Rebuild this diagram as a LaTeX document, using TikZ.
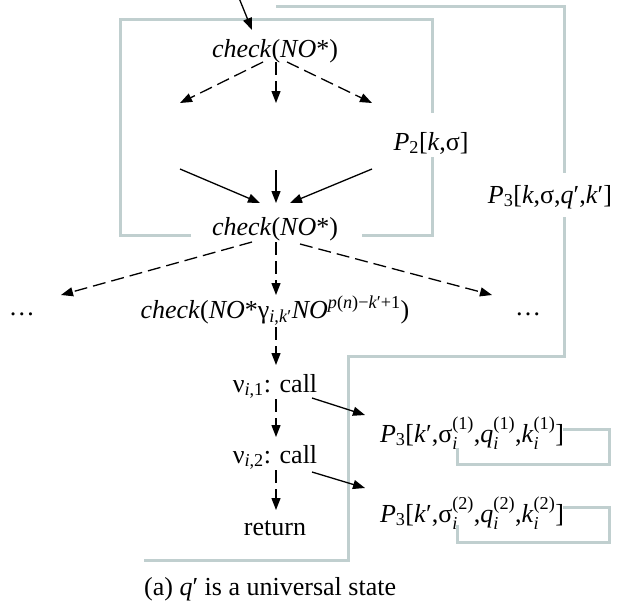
\documentclass[tikz,border=0pt]{standalone}
\usepackage{amsmath}
\usepackage{fontspec}
\setmainfont{Liberation Serif}
\usetikzlibrary{arrows.meta}
\definecolor{boxgray}{RGB}{192,207,207}
\newcommand{\sbsp}[2]{\ensuremath{_{\text{#1}}^{\text{#2}}}}
\newcommand{\sbs}[1]{\ensuremath{_{\text{#1}}}}
\newcommand{\sps}[1]{\ensuremath{^{\text{#1}}}}
\begin{document}
\begin{tikzpicture}[x=1pt,y=-1pt,
  lbl/.style={inner sep=0pt, anchor=base, font=\fontsize{26}{31}\selectfont},
  arr/.style={line width=1.3pt, -{Triangle[length=12pt,width=9pt]}},
  darr/.style={arr, dash pattern=on 13pt off 6pt},
  grayline/.style={draw=boxgray, line width=3pt}]
\useasboundingbox (0,0) rectangle (617,610);

% gray frames
\draw[grayline] (191,235) -- (120,235) -- (120,20) -- (432,20) -- (432,113);
\draw[grayline] (432,157) -- (432,235) -- (362,235);
\draw[grayline] (276,7) -- (564,7) -- (564,173);
\draw[grayline] (564,217) -- (564,356) -- (348,356) -- (348,560) -- (144,560);

% nodes
\node[lbl] (check1) at (275,57) {\textit{check}(\textit{NO}*)};
\node[lbl] (p2) at (431,150) {\textit{P}\sbs{2}[\textit{k},σ]};
\node[lbl] (check2) at (275,235) {\textit{check}(\textit{NO}*)};
\node[lbl] (p3) at (550,203) {\textit{P}\sbs{3}[\textit{k},σ,\textit{q}′,\textit{k}′]};
\node[lbl] (dotsl) at (22,315) {\ldots};
\node[lbl] (dotsr) at (528,315) {\ldots};
\node[lbl] (check3) at (275,318) {\textit{check}(\textit{NO}*γ\sbs{\textit{i},\textit{k}′}\textit{NO}\sps{\textit{p}(\textit{n})−\textit{k}′+1})};
\node[lbl] (nu1) at (275,392) {ν\sbs{\textit{i},1}: call};
\node[lbl] (nu2) at (275,463) {ν\sbs{\textit{i},2}: call};
\node[lbl] (ret) at (275,535) {return};
\node[lbl] (p3a) at (472,442) {\textit{P}\sbs{3}[\textit{k}′,σ\sbsp{\textit{i}}{(1)},\textit{q}\sbsp{\textit{i}}{(1)},\textit{k}\sbsp{\textit{i}}{(1)}]};
\node[lbl] (p3b) at (472,522) {\textit{P}\sbs{3}[\textit{k}′,σ\sbsp{\textit{i}}{(2)},\textit{q}\sbsp{\textit{i}}{(2)},\textit{k}\sbsp{\textit{i}}{(2)}]};
\node[lbl, anchor=base west] (cap) at (144,595) {(a) \textit{q}′ is a universal state};

% free ends
\coordinate (inS) at (239,-2);
\coordinate (e11) at (180,103);
\coordinate (e12) at (276,103);
\coordinate (e13) at (372,103);
\coordinate (s21) at (180,169);
\coordinate (s22) at (276,170);
\coordinate (s23) at (372,169);

% connectors
\draw[arr] (inS) -- ([xshift=-23pt,yshift=27pt]check1.base);
\draw[darr] ([xshift=-12pt,yshift=-5pt]check1.base) -- (e11);
\draw[darr] ([xshift=1pt,yshift=-5pt]check1.base) -- (e12);
\draw[darr] ([xshift=12pt,yshift=-5pt]check1.base) -- (e13);
\draw[arr] (s21) -- ([xshift=-15pt,yshift=32pt]check2.base);
\draw[arr] (s22) -- ([xshift=1pt,yshift=32pt]check2.base);
\draw[arr] (s23) -- ([xshift=15pt,yshift=32pt]check2.base);
\draw[darr] ([xshift=-23pt,yshift=-7pt]check2.base) -- ([xshift=39pt,yshift=20pt]dotsl.base);
\draw[darr] ([xshift=1pt,yshift=-7pt]check2.base) -- ([xshift=1pt,yshift=23pt]check3.base);
\draw[darr] ([xshift=25pt,yshift=-9pt]check2.base) -- ([xshift=-36pt,yshift=20pt]dotsr.base);
\draw[darr] ([xshift=1pt,yshift=-9pt]check3.base) -- ([xshift=1pt,yshift=27pt]nu1.base);
\draw[darr] ([xshift=1pt,yshift=-7pt]nu1.base) -- ([xshift=1pt,yshift=26pt]nu2.base);
\draw[darr] ([xshift=1pt,yshift=-7pt]nu2.base) -- ([xshift=1pt,yshift=25pt]ret.base);
\draw[arr] ([xshift=37pt,yshift=-6pt]nu1.base) -- ([xshift=-107pt,yshift=27pt]p3a.base);
\draw[arr] ([xshift=37pt,yshift=-9pt]nu2.base) -- ([xshift=-107pt,yshift=34pt]p3b.base);

% loops
\draw[grayline] ([xshift=91pt,yshift=13pt]p3a.base) -- ++(46,0) -- ++(0,35) -- ++(-152,0) -- ++(0,-16);
\draw[grayline] ([xshift=91pt,yshift=15pt]p3b.base) -- ++(46,0) -- ++(0,35) -- ++(-152,0) -- ++(0,-17);
\end{tikzpicture}
\end{document}
